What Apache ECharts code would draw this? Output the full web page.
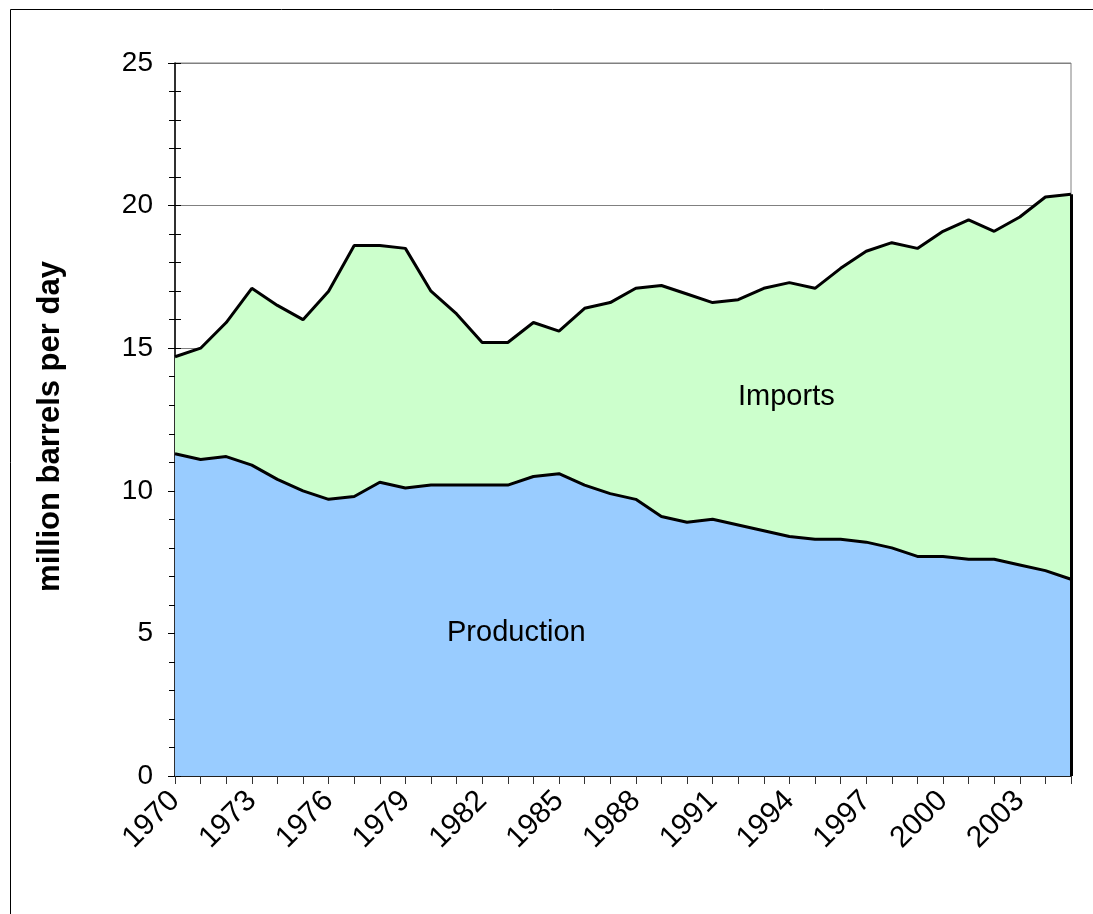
<!DOCTYPE html>
<html>
<head>
<meta charset="utf-8">
<script src="https://cdn.jsdelivr.net/npm/echarts@6/dist/echarts.min.js"></script>
<style>
  html, body { margin: 0; padding: 0; background: #fff; }
  #main { width: 1093px; height: 914px; }
</style>
</head>
<body>
<div id="main"></div>
<script>
// 年份
var years = ['1970', '1971', '1972', '1973', '1974', '1975', '1976', '1977', '1978', '1979',
             '1980', '1981', '1982', '1983', '1984', '1985', '1986', '1987', '1988', '1989',
             '1990', '1991', '1992', '1993', '1994', '1995', '1996', '1997', '1998', '1999',
             '2000', '2001', '2002', '2003', '2004', '2005'];

// 国内产量 (million barrels per day)
var production = [11.3, 11.1, 11.2, 10.9, 10.4, 10.0, 9.7, 9.8, 10.3, 10.1,
                  10.2, 10.2, 10.2, 10.2, 10.5, 10.6, 10.2, 9.9, 9.7, 9.1,
                  8.9, 9.0, 8.8, 8.6, 8.4, 8.3, 8.3, 8.2, 8.0, 7.7,
                  7.7, 7.6, 7.6, 7.4, 7.2, 6.9];

// 进口 (叠加在产量之上)
var imports = [3.4, 3.9, 4.7, 6.2, 6.1, 6.0, 7.3, 8.8, 8.3, 8.4,
               6.8, 6.0, 5.0, 5.0, 5.4, 5.0, 6.2, 6.7, 7.4, 8.1,
               8.0, 7.6, 7.9, 8.5, 8.9, 8.8, 9.5, 10.2, 10.7, 10.8,
               11.4, 11.9, 11.5, 12.2, 13.1, 13.5];

var lastIdx = years.length - 1;
var lastTotal = production[lastIdx] + imports[lastIdx];

var myChart = echarts.init(document.getElementById('main'));

var option = {
    animation: false,
    backgroundColor: '#fff',
    textStyle: { fontFamily: 'Liberation Sans, Arial, sans-serif' },
    graphic: [
        // 外框
        { type: 'rect', left: 8, top: 7, shape: { width: 1300, height: 1000 },
          style: { fill: 'none', stroke: '#000', lineWidth: 1 }, silent: true },
        { type: 'text', left: 738, top: 382,
          style: { text: 'Imports', fill: '#000', font: '29px Liberation Sans' }, z: 10 },
        { type: 'text', left: 447, top: 618,
          style: { text: 'Production', fill: '#000', font: '29px Liberation Sans' }, z: 10 }
    ],
    grid: {
        left: 175, right: 22, top: 63, bottom: 138,
        show: true, borderColor: '#808080', borderWidth: 1
    },
    xAxis: {
        type: 'category',
        data: years,
        boundaryGap: false,
        axisLine: { lineStyle: { color: '#000', width: 1.5 } },
        axisTick: { show: true, interval: 0, length: 8, lineStyle: { color: '#333' } },
        axisLabel: {
            interval: 2, rotate: 45, margin: 20,
            fontSize: 30, color: '#000'
        },
        splitLine: { show: false }
    },
    yAxis: [
        {
            type: 'value',
            min: 0, max: 25, interval: 5,
            name: 'million barrels per day',
            nameLocation: 'middle',
            nameGap: 109,
            nameTextStyle: { fontSize: 31, fontWeight: 'bold', color: '#000', padding: [0, 14, 0, 0] },
            axisLine: { show: true, lineStyle: { color: '#000', width: 1.5 } },
            axisTick: { show: true, length: 7, lineStyle: { color: '#000' } },
            minorTick: { show: true, splitNumber: 5, length: 6, lineStyle: { color: '#000' } },
            axisLabel: { fontSize: 28, color: '#000', margin: 22 },
            splitLine: { show: true, lineStyle: { color: '#808080', width: 1 } }
        },
        {
            // 只为画向内的刻度
            type: 'value',
            position: 'left',
            min: 0, max: 25, interval: 5,
            axisLine: { show: false },
            axisTick: { show: true, inside: true, length: 6, lineStyle: { color: '#000' } },
            minorTick: { show: true, splitNumber: 5, length: 6, lineStyle: { color: '#000' } },
            axisLabel: { show: false },
            splitLine: { show: false }
        }
    ],
    series: [
        {
            name: 'Production',
            type: 'line',
            stack: 'total',
            data: production,
            symbol: 'none',
            z: 4,
            lineStyle: { color: '#000', width: 3 },
            areaStyle: { color: '#99CCFF', opacity: 1 }
        },
        {
            name: 'Imports',
            type: 'line',
            stack: 'total',
            data: imports,
            symbol: 'none',
            z: 3,
            lineStyle: { color: '#000', width: 3 },
            areaStyle: { color: '#CCFFCC', opacity: 1 },
            markLine: {
                silent: true,
                symbol: 'none',
                label: { show: false },
                lineStyle: { color: '#000', width: 3, type: 'solid' },
                data: [[
                    { coord: [years[lastIdx], 0] },
                    { coord: [years[lastIdx], lastTotal] }
                ]]
            }
        }
    ]
};

myChart.setOption(option, true);
</script>
</body>
</html>
